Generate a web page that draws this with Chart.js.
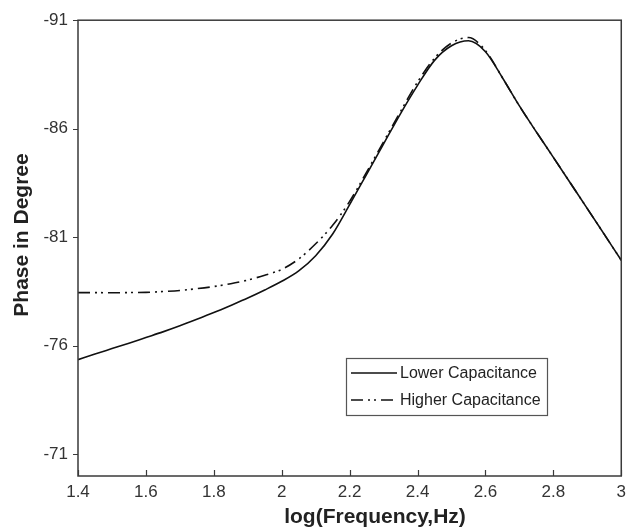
<!DOCTYPE html>
<html>
<head>
<meta charset="utf-8">
<script src="https://cdn.jsdelivr.net/npm/chart.js@4.4.0/dist/chart.umd.min.js"></script>
<style>
html, body { margin: 0; padding: 0; background: #fff; }
</style>
</head>
<body>
<canvas id="phaseChart" width="632" height="530"></canvas>
<script>
var logFreq = [1.4, 1.45, 1.5, 1.55, 1.6, 1.65, 1.7, 1.75, 1.8, 1.85, 1.9, 1.95, 2.0, 2.05, 2.1, 2.15, 2.2, 2.25, 2.3, 2.35,
               2.4, 2.45, 2.5, 2.55, 2.6, 2.65, 2.7, 2.75, 2.8, 2.85, 2.9, 2.95, 3.0];
var lowerCap = [-75.36, -75.62, -75.87, -76.12, -76.38, -76.64, -76.92, -77.22, -77.53, -77.86, -78.2, -78.57, -78.97, -79.45, -80.15, -81.15, -82.5, -83.9,
                -85.3, -86.7, -88.0, -89.15, -89.82, -90.05, -89.55, -88.35, -87.05, -85.85, -84.68, -83.5, -82.32, -81.13, -79.94];
var higherCap = [-78.45, -78.45, -78.44, -78.45, -78.46, -78.5, -78.55, -78.63, -78.73, -78.86, -79.03, -79.25, -79.52, -80.0, -80.7, -81.55, -82.65, -84.0,
                 -85.4, -86.8, -88.15, -89.25, -89.95, -90.2, -89.6, -88.35, -87.05, -85.85, -84.68, -83.5, -82.32, -81.13, -79.94];
var xTicks = [1.4, 1.6, 1.8, 2, 2.2, 2.4, 2.6, 2.8, 3];
var yTicks = [-91, -86, -81, -76, -71];

var fontFamily = '"Liberation Sans", Arial, Helvetica, sans-serif';
var ink = '#3a3a3a';

function toPoints(ys) {
    return logFreq.map(function (x, i) { return { x: x, y: ys[i] }; });
}

// frame, inside x ticks, outside y ticks, axis titles and the boxed legend
var decorations = {
    id: 'decorations',
    afterDraw: function (chart) {
        var ctx = chart.ctx, a = chart.chartArea;
        var xs = chart.scales.x, ys = chart.scales.y;
        ctx.save();
        ctx.strokeStyle = ink;
        ctx.lineWidth = 1.5;
        ctx.strokeRect(a.left, a.top, a.right - a.left, a.bottom - a.top);

        ctx.lineWidth = 1.2;
        ctx.beginPath();
        xTicks.forEach(function (v) {
            var px = Math.round(xs.getPixelForValue(v)) + 0.5;
            ctx.moveTo(px, a.bottom);
            ctx.lineTo(px, a.bottom - 6);
        });
        yTicks.forEach(function (v) {
            var py = Math.round(ys.getPixelForValue(v)) + 0.5;
            ctx.moveTo(a.left - 5, py);
            ctx.lineTo(a.left, py);
        });
        ctx.stroke();

        // axis titles
        ctx.fillStyle = '#222';
        ctx.font = 'bold 21px ' + fontFamily;
        ctx.textAlign = 'center';
        ctx.textBaseline = 'middle';
        ctx.fillText('log(Frequency,Hz)', a.left + 297, 517);
        ctx.save();
        ctx.translate(22, 235);
        ctx.rotate(-Math.PI / 2);
        ctx.fillText('Phase in Degree', 0, 0);
        ctx.restore();

        // legend box
        var lx = a.left + 268, ly = 358, lw = 201, lh = 57;
        ctx.fillStyle = '#fff';
        ctx.fillRect(lx, ly, lw, lh);
        ctx.strokeStyle = '#555';
        ctx.lineWidth = 1.2;
        ctx.strokeRect(lx + 0.5, ly + 0.5, lw, lh);
        ctx.font = '16px ' + fontFamily;
        ctx.textAlign = 'left';
        ctx.fillStyle = '#222';
        chart.data.datasets.forEach(function (ds, i) {
            var rowY = ly + 15 + i * 27;
            ctx.strokeStyle = ds.borderColor;
            ctx.lineWidth = ds.borderWidth;
            ctx.setLineDash(ds.borderDash || []);
            ctx.beginPath();
            ctx.moveTo(lx + 5, rowY);
            ctx.lineTo(lx + 51, rowY);
            ctx.stroke();
            ctx.setLineDash([]);
            ctx.fillText(ds.label, lx + 54, rowY + 1);
        });
        ctx.restore();
    }
};

var ctx = document.getElementById('phaseChart').getContext('2d');
var chart = new Chart(ctx, {
    type: 'line',
    data: {
        datasets: [{
            label: 'Lower Capacitance',
            data: toPoints(lowerCap),
            borderColor: '#111',
            borderWidth: 1.6,
            pointRadius: 0,
            cubicInterpolationMode: 'monotone',
            fill: false
        },
            {
                label: 'Higher Capacitance',
                data: toPoints(higherCap),
                borderColor: '#111',
                borderWidth: 1.6,
                borderDash: [12, 5, 2, 4, 2, 5],
                pointRadius: 0,
                cubicInterpolationMode: 'monotone',
                fill: false
            }]
    },
    options: {
        responsive: false,
        animation: false,
        layout: { padding: { top: 19, right: 9, left: 0, bottom: 0 } },
        plugins: {
            legend: { display: false },
            tooltip: { enabled: false }
        },
        scales: {
            x: {
                type: 'linear',
                min: 1.4,
                max: 3,
                grid: { display: false, drawTicks: false },
                border: { display: false },
                afterBuildTicks: function (scale) {
                    scale.ticks = xTicks.map(function (v) { return { value: v }; });
                },
                afterFit: function (scale) { scale.height = 54; },
                ticks: {
                    padding: 6,
                    color: '#333',
                    font: { family: fontFamily, size: 17 },
                    maxRotation: 0,
                    callback: function (v) { return String(v); }
                }
            },
            y: {
                type: 'linear',
                reverse: true,
                min: -91,
                max: -70,
                grid: { display: false, drawTicks: false },
                border: { display: false },
                afterBuildTicks: function (scale) {
                    scale.ticks = yTicks.map(function (v) { return { value: v }; });
                },
                afterFit: function (scale) { scale.width = 78; },
                ticks: {
                    padding: 10,
                    color: '#333',
                    font: { family: fontFamily, size: 17 },
                    callback: function (v) { return String(v); }
                }
            }
        }
    },
    plugins: [decorations]
});
</script>
</body>
</html>
